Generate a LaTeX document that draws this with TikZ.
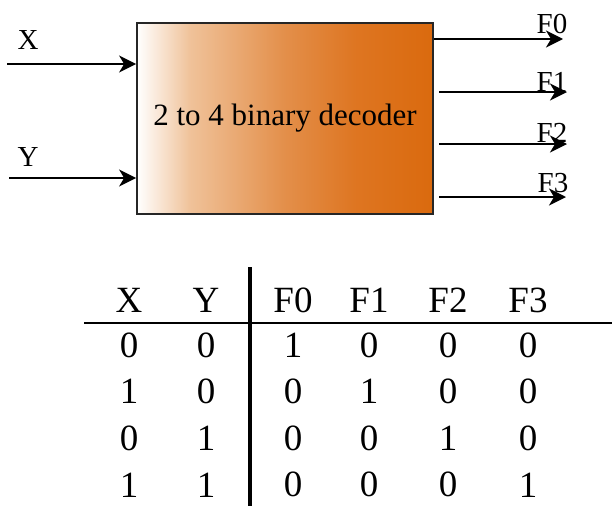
\documentclass[tikz,border=0pt]{standalone}
\usepackage{fontspec}
\setmainfont{Liberation Serif}
\usetikzlibrary{arrows.meta}

% white-to-orange ramp of the decoder block
\pgfdeclarehorizontalshading{decoderfill}{100bp}{
  rgb(0bp)=(1,1,1); rgb(25bp)=(1,1,1);
  rgb(34bp)=(0.94,0.76,0.60);
  rgb(50bp)=(0.89,0.56,0.29);
  rgb(62bp)=(0.87,0.46,0.13);
  rgb(75bp)=(0.855,0.415,0.055); rgb(100bp)=(0.855,0.415,0.055)}

\begin{document}
\begin{tikzpicture}[
      x=1pt, y=-1pt,
      decoder/.style={draw=black!85, line width=1.8pt, shading=decoderfill, minimum width=296pt, minimum height=191pt, inner sep=0pt, font=\fontsize{31}{36}\selectfont},
      signal/.style={font=\fontsize{29}{34}\selectfont, inner sep=0pt},
      cell/.style={font=\fontsize{37}{42}\selectfont, inner sep=0pt},
      arrow/.style={line width=2.2pt, -{Stealth[length=17pt, width=17pt, inset=5pt]}}
      ]
      \useasboundingbox (0,0) rectangle (612,506);

      % Decoder block
      \node (dec) [decoder] at (285,118.5) {2 to 4 binary decoder};

      % Inputs
      \node (xlab) [signal] at (28,40) {X};
      \node (ylab) [signal] at (28,157) {Y};
      \coordinate (xin) at (7,64);
      \coordinate (yin) at (9,178);
      \draw [arrow] (xin) -- (xin -| dec.west);
      \draw [arrow] (yin) -- (yin -| dec.west);

      % Outputs
      \coordinate (o0s) at (433,39);  \coordinate (o0e) at (563,39);
      \coordinate (o1s) at (439,92);  \coordinate (o1e) at (567,92);
      \coordinate (o2s) at (439,144); \coordinate (o2e) at (567,144);
      \coordinate (o3s) at (439,197); \coordinate (o3e) at (566,197);
      \draw [arrow] (o0s -| dec.east) -- (o0e);
      \draw [arrow] (o1s) -- (o1e);
      \draw [arrow] (o2s) -- (o2e);
      \draw [arrow] (o3s) -- (o3e);
      \node (f0lab) [signal] at (552,24) {F0};
      \node (f1lab) [signal] at (552,82) {F1};
      \node (f2lab) [signal] at (552,133) {F2};
      \node (f3lab) [signal] at (553,183) {F3};

      % Truth table
      \foreach \h [count=\j] in {X,Y,F0,F1,F2,F3} {
        \pgfmathsetmacro\cx{{129,206,293,369,448,528}[\j-1]}
        \node (h\j) [cell] at (\cx,300) {\h};
      }
      \foreach \row [count=\i] in {{0,0,1,0,0,0},{1,0,0,1,0,0},{0,1,0,0,1,0},{1,1,0,0,0,1}} {
        \foreach \v [count=\j] in \row {
          \pgfmathsetmacro\cx{{129,206,293,369,448,528}[\j-1]}
          \node (c\i\j) [cell] at (\cx,{345+46.6*(\i-1)}) {\v};
        }
      }
      \draw [line width=1.6pt] (84,323) -- (612,323);
      \draw [line width=3.6pt] (250,267) -- (250,506);

    \end{tikzpicture}
\end{document}
